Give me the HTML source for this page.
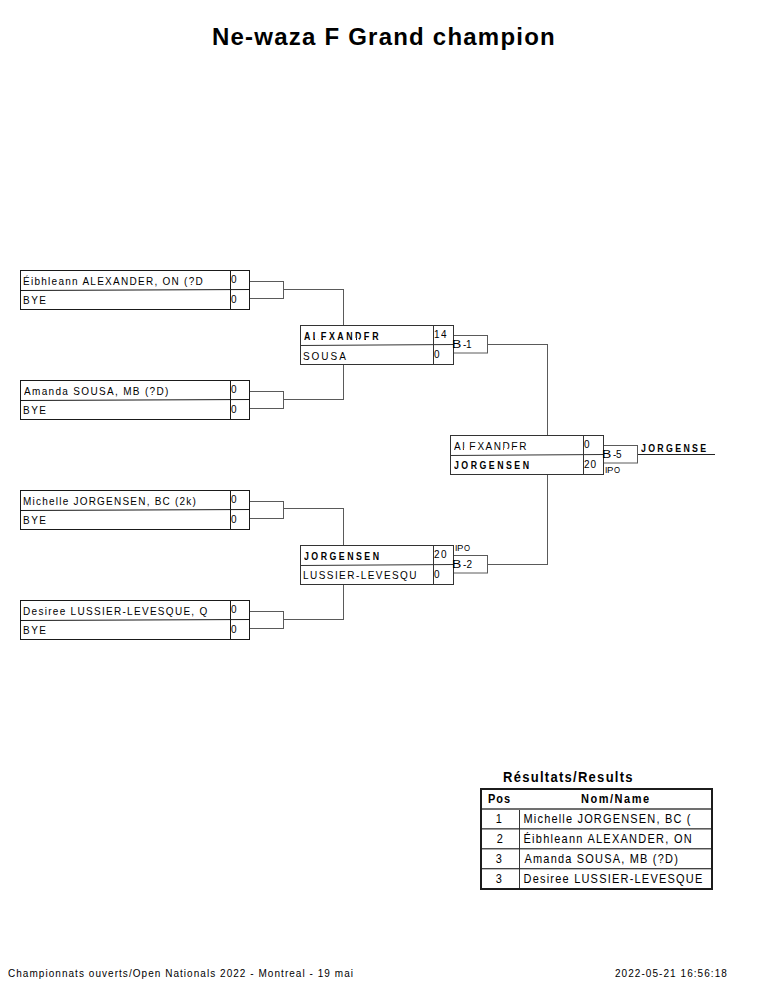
<!DOCTYPE html>
<html><head><meta charset="utf-8"><style>
html,body{margin:0;padding:0;background:#fff;}
#pg{position:relative;width:765px;height:990px;overflow:hidden;background:#fff;}
.t{position:absolute;white-space:pre;line-height:0;font-family:"Liberation Sans", sans-serif;color:#000;}
svg{position:absolute;left:0;top:0;}
</style></head><body><div id="pg">
<svg width="765" height="990" shape-rendering="crispEdges"><rect x="20" y="270" width="230" height="1" fill="#1a1a1a"/><rect x="20" y="309" width="230" height="1" fill="#1a1a1a"/><rect x="20" y="270" width="1" height="40" fill="#1a1a1a"/><rect x="249" y="270" width="1" height="40" fill="#1a1a1a"/><rect x="230" y="270" width="1" height="40" fill="#1a1a1a"/><line x1="20" y1="290.5" x2="250" y2="289.5" stroke="#1a1a1a" stroke-width="1" shape-rendering="auto"/><rect x="250" y="281" width="34" height="1" fill="#5a5a5a"/><rect x="250" y="298" width="34" height="1" fill="#5a5a5a"/><rect x="283" y="281" width="1" height="18" fill="#5a5a5a"/><rect x="284" y="289" width="60" height="1" fill="#5a5a5a"/><rect x="343" y="289" width="1" height="36" fill="#5a5a5a"/><rect x="20" y="380" width="230" height="1" fill="#1a1a1a"/><rect x="20" y="419" width="230" height="1" fill="#1a1a1a"/><rect x="20" y="380" width="1" height="40" fill="#1a1a1a"/><rect x="249" y="380" width="1" height="40" fill="#1a1a1a"/><rect x="230" y="380" width="1" height="40" fill="#1a1a1a"/><line x1="20" y1="400.5" x2="250" y2="399.5" stroke="#1a1a1a" stroke-width="1" shape-rendering="auto"/><rect x="250" y="391" width="34" height="1" fill="#5a5a5a"/><rect x="250" y="408" width="34" height="1" fill="#5a5a5a"/><rect x="283" y="391" width="1" height="18" fill="#5a5a5a"/><rect x="284" y="399" width="60" height="1" fill="#5a5a5a"/><rect x="343" y="364" width="1" height="36" fill="#5a5a5a"/><rect x="20" y="490" width="230" height="1" fill="#1a1a1a"/><rect x="20" y="529" width="230" height="1" fill="#1a1a1a"/><rect x="20" y="490" width="1" height="40" fill="#1a1a1a"/><rect x="249" y="490" width="1" height="40" fill="#1a1a1a"/><rect x="230" y="490" width="1" height="40" fill="#1a1a1a"/><line x1="20" y1="510.5" x2="250" y2="509.5" stroke="#1a1a1a" stroke-width="1" shape-rendering="auto"/><rect x="250" y="501" width="34" height="1" fill="#5a5a5a"/><rect x="250" y="518" width="34" height="1" fill="#5a5a5a"/><rect x="283" y="501" width="1" height="18" fill="#5a5a5a"/><rect x="284" y="508" width="60" height="1" fill="#5a5a5a"/><rect x="343" y="508" width="1" height="37" fill="#5a5a5a"/><rect x="20" y="600" width="230" height="1" fill="#1a1a1a"/><rect x="20" y="639" width="230" height="1" fill="#1a1a1a"/><rect x="20" y="600" width="1" height="40" fill="#1a1a1a"/><rect x="249" y="600" width="1" height="40" fill="#1a1a1a"/><rect x="230" y="600" width="1" height="40" fill="#1a1a1a"/><line x1="20" y1="620.5" x2="250" y2="619.5" stroke="#1a1a1a" stroke-width="1" shape-rendering="auto"/><rect x="250" y="611" width="34" height="1" fill="#5a5a5a"/><rect x="250" y="628" width="34" height="1" fill="#5a5a5a"/><rect x="283" y="611" width="1" height="18" fill="#5a5a5a"/><rect x="284" y="619" width="60" height="1" fill="#5a5a5a"/><rect x="343" y="584" width="1" height="36" fill="#5a5a5a"/><rect x="300" y="325" width="154" height="1" fill="#333"/><rect x="300" y="364" width="154" height="1" fill="#333"/><rect x="300" y="325" width="1" height="40" fill="#333"/><rect x="453" y="325" width="1" height="40" fill="#333"/><rect x="433" y="325" width="1" height="40" fill="#333"/><line x1="300" y1="345.5" x2="454" y2="344.5" stroke="#333" stroke-width="1" shape-rendering="auto"/><rect x="454" y="335" width="33" height="1" fill="#5a5a5a"/><rect x="487" y="335" width="1" height="18" fill="#5a5a5a"/><line x1="454" y1="353" x2="488" y2="353" stroke="#5a5a5a" stroke-width="1" shape-rendering="auto"/><rect x="488" y="344" width="59" height="1" fill="#5a5a5a"/><rect x="300" y="545" width="154" height="1" fill="#333"/><rect x="300" y="584" width="154" height="1" fill="#333"/><rect x="300" y="545" width="1" height="40" fill="#333"/><rect x="453" y="545" width="1" height="40" fill="#333"/><rect x="433" y="545" width="1" height="40" fill="#333"/><line x1="300" y1="565.5" x2="454" y2="564.5" stroke="#333" stroke-width="1" shape-rendering="auto"/><rect x="454" y="555" width="33" height="1" fill="#5a5a5a"/><rect x="487" y="555" width="1" height="18" fill="#5a5a5a"/><line x1="454" y1="573" x2="488" y2="573" stroke="#5a5a5a" stroke-width="1" shape-rendering="auto"/><rect x="488" y="564" width="59" height="1" fill="#5a5a5a"/><rect x="547" y="344" width="1" height="91" fill="#5a5a5a"/><rect x="547" y="474" width="1" height="91" fill="#5a5a5a"/><rect x="450" y="435" width="154" height="1" fill="#333"/><rect x="450" y="474" width="154" height="1" fill="#333"/><rect x="450" y="435" width="1" height="40" fill="#333"/><rect x="603" y="435" width="1" height="40" fill="#333"/><rect x="583" y="435" width="1" height="40" fill="#333"/><line x1="450" y1="455.5" x2="604" y2="454.5" stroke="#333" stroke-width="1" shape-rendering="auto"/><rect x="604" y="445" width="33" height="1" fill="#5a5a5a"/><rect x="637" y="445" width="1" height="18" fill="#5a5a5a"/><line x1="604" y1="463" x2="638" y2="463" stroke="#5a5a5a" stroke-width="1" shape-rendering="auto"/><rect x="638" y="454" width="77" height="1" fill="#222"/><rect x="480" y="788" width="233" height="2" fill="#1c1c1c"/><rect x="480" y="888" width="233" height="2" fill="#1c1c1c"/><rect x="480" y="788" width="2" height="102" fill="#1c1c1c"/><rect x="711" y="788" width="2" height="102" fill="#1c1c1c"/><rect x="482" y="808" width="229" height="1" fill="#707070"/><rect x="482" y="809" width="229" height="1" fill="#707070"/><rect x="482" y="828" width="229" height="1" fill="#5c5c5c"/><rect x="482" y="829" width="229" height="1" fill="#999"/><rect x="482" y="848" width="229" height="1" fill="#505050"/><rect x="482" y="849" width="229" height="1" fill="#aaa"/><rect x="482" y="868" width="229" height="1" fill="#444"/><rect x="482" y="869" width="229" height="1" fill="#bbb"/><rect x="519" y="810" width="1" height="78" fill="#333"/></svg>
<div class="t" style="left:212.00px;top:37.00px;font-size:24px;letter-spacing:1.217px;font-weight:bold">Ne-waza F Grand champion</div>
<div class="t" style="left:23.00px;top:282.00px;font-size:10px;letter-spacing:1.269px;transform:scale(1.0000,1.1000);transform-origin:0 3.00px">Éibhleann ALEXANDER, ON (?D</div>
<div class="t" style="left:23.00px;top:301.00px;font-size:10px;letter-spacing:1.500px;transform:scale(1.0000,1.1000);transform-origin:0 3.00px">BYE</div>
<div class="t" style="left:231.00px;top:280.00px;font-size:10px;transform:scale(1.0000,1.1000);transform-origin:0 3.00px">0</div>
<div class="t" style="left:231.00px;top:300.00px;font-size:10px;transform:scale(1.0000,1.1000);transform-origin:0 3.00px">0</div>
<div class="t" style="left:24.00px;top:392.00px;font-size:10px;letter-spacing:1.325px;transform:scale(1.0000,1.1000);transform-origin:0 3.00px">Amanda SOUSA, MB (?D)</div>
<div class="t" style="left:23.00px;top:411.00px;font-size:10px;letter-spacing:1.500px;transform:scale(1.0000,1.1000);transform-origin:0 3.00px">BYE</div>
<div class="t" style="left:231.00px;top:390.00px;font-size:10px;transform:scale(1.0000,1.1000);transform-origin:0 3.00px">0</div>
<div class="t" style="left:231.00px;top:410.00px;font-size:10px;transform:scale(1.0000,1.1000);transform-origin:0 3.00px">0</div>
<div class="t" style="left:23.00px;top:502.00px;font-size:10px;letter-spacing:1.219px;transform:scale(1.0000,1.1000);transform-origin:0 3.00px">Michelle JORGENSEN, BC (2k)</div>
<div class="t" style="left:23.00px;top:521.00px;font-size:10px;letter-spacing:1.500px;transform:scale(1.0000,1.1000);transform-origin:0 3.00px">BYE</div>
<div class="t" style="left:231.00px;top:500.00px;font-size:10px;transform:scale(1.0000,1.1000);transform-origin:0 3.00px">0</div>
<div class="t" style="left:231.00px;top:520.00px;font-size:10px;transform:scale(1.0000,1.1000);transform-origin:0 3.00px">0</div>
<div class="t" style="left:23.00px;top:612.00px;font-size:10px;letter-spacing:1.296px;transform:scale(1.0000,1.1000);transform-origin:0 3.00px">Desiree LUSSIER-LEVESQUE, Q</div>
<div class="t" style="left:23.00px;top:631.00px;font-size:10px;letter-spacing:1.500px;transform:scale(1.0000,1.1000);transform-origin:0 3.00px">BYE</div>
<div class="t" style="left:231.00px;top:610.00px;font-size:10px;transform:scale(1.0000,1.1000);transform-origin:0 3.00px">0</div>
<div class="t" style="left:231.00px;top:630.00px;font-size:10px;transform:scale(1.0000,1.1000);transform-origin:0 3.00px">0</div>
<div class="t" style="left:304.00px;top:337.00px;font-size:10px;letter-spacing:2.804px;font-weight:bold;transform:scale(0.8800,1.1000);transform-origin:0 3.00px">ALEXANDER</div>
<div class="t" style="left:303.00px;top:357.00px;font-size:10px;letter-spacing:1.950px;transform:scale(1.0000,1.1000);transform-origin:0 3.00px">SOUSA</div>
<div class="t" style="left:434.00px;top:335.00px;font-size:10px;transform:scale(1.0000,1.1000);transform-origin:0 3.00px">1</div>
<div class="t" style="left:441.00px;top:335.00px;font-size:10px;transform:scale(1.0000,1.1000);transform-origin:0 3.00px">4</div>
<div class="t" style="left:434.00px;top:355.00px;font-size:10px;transform:scale(1.0000,1.1000);transform-origin:0 3.00px">0</div>
<div class="t" style="left:451.60px;top:345.00px;font-size:10px;transform:scale(1.4000,1.1000);transform-origin:0 3.00px">B</div>
<div class="t" style="left:463.00px;top:345.00px;font-size:10px;transform:scale(1.0000,1.1000);transform-origin:0 3.00px">-</div>
<div class="t" style="left:466.00px;top:345.00px;font-size:10px;transform:scale(1.0000,1.1000);transform-origin:0 3.00px">1</div>
<div class="t" style="left:304.00px;top:557.00px;font-size:10px;letter-spacing:2.804px;font-weight:bold;transform:scale(0.8800,1.1000);transform-origin:0 3.00px">JORGENSEN</div>
<div class="t" style="left:303.00px;top:576.00px;font-size:10px;letter-spacing:1.443px;transform:scale(1.0000,1.1000);transform-origin:0 3.00px">LUSSIER-LEVESQU</div>
<div class="t" style="left:434.00px;top:555.00px;font-size:10px;transform:scale(1.0000,1.1000);transform-origin:0 3.00px">2</div>
<div class="t" style="left:441.00px;top:555.00px;font-size:10px;transform:scale(1.0000,1.1000);transform-origin:0 3.00px">0</div>
<div class="t" style="left:434.00px;top:575.00px;font-size:10px;transform:scale(1.0000,1.1000);transform-origin:0 3.00px">0</div>
<div class="t" style="left:451.60px;top:565.00px;font-size:10px;transform:scale(1.4000,1.1000);transform-origin:0 3.00px">B</div>
<div class="t" style="left:463.00px;top:565.00px;font-size:10px;transform:scale(1.0000,1.1000);transform-origin:0 3.00px">-</div>
<div class="t" style="left:466.50px;top:565.00px;font-size:10px;transform:scale(1.0000,1.1000);transform-origin:0 3.00px">2</div>
<div class="t" style="left:455.00px;top:548.00px;font-size:8.5px;transform:scale(1.0000,1.1176);transform-origin:0 3.00px">I</div>
<div class="t" style="left:456.88px;top:548.00px;font-size:8.5px;transform:scale(1.1250,1.1176);transform-origin:0 3.00px">P</div>
<div class="t" style="left:464.00px;top:548.00px;font-size:8.5px;transform:scale(0.9167,1.1176);transform-origin:0 3.00px">O</div>
<div class="t" style="left:454.00px;top:447.00px;font-size:10px;letter-spacing:1.500px;transform:scale(1.0000,1.1000);transform-origin:0 3.00px">ALEXANDER</div>
<div class="t" style="left:454.00px;top:466.00px;font-size:10px;letter-spacing:2.804px;font-weight:bold;transform:scale(0.8800,1.1000);transform-origin:0 3.00px">JORGENSEN</div>
<div class="t" style="left:584.00px;top:445.00px;font-size:10px;transform:scale(1.0000,1.1000);transform-origin:0 3.00px">0</div>
<div class="t" style="left:584.00px;top:465.00px;font-size:10px;transform:scale(1.0000,1.1000);transform-origin:0 3.00px">2</div>
<div class="t" style="left:590.50px;top:465.00px;font-size:10px;transform:scale(1.0000,1.1000);transform-origin:0 3.00px">0</div>
<div class="t" style="left:601.60px;top:455.00px;font-size:10px;transform:scale(1.4000,1.1000);transform-origin:0 3.00px">B</div>
<div class="t" style="left:613.00px;top:455.00px;font-size:10px;transform:scale(1.0000,1.1000);transform-origin:0 3.00px">-</div>
<div class="t" style="left:616.00px;top:455.00px;font-size:10px;transform:scale(1.0000,1.1000);transform-origin:0 3.00px">5</div>
<div class="t" style="left:605.00px;top:470.00px;font-size:8.5px;transform:scale(1.0000,1.1176);transform-origin:0 3.00px">I</div>
<div class="t" style="left:606.88px;top:470.00px;font-size:8.5px;transform:scale(1.1250,1.1176);transform-origin:0 3.00px">P</div>
<div class="t" style="left:614.00px;top:470.00px;font-size:8.5px;transform:scale(0.9167,1.1176);transform-origin:0 3.00px">O</div>
<div class="t" style="left:641.00px;top:449.00px;font-size:10px;letter-spacing:2.633px;font-weight:bold;transform:scale(0.8800,1.1000);transform-origin:0 3.00px">JORGENSE</div>
<div class="t" style="left:503.00px;top:778.00px;font-size:13px;letter-spacing:1.281px;font-weight:bold;transform:scale(1.0000,1.0769);transform-origin:0 4.00px">Résultats/Results</div>
<div class="t" style="left:488.00px;top:799.00px;font-size:11px;letter-spacing:1.000px;font-weight:bold;transform:scale(1.0000,1.0909);transform-origin:0 4.00px">Pos</div>
<div class="t" style="left:581.00px;top:799.00px;font-size:11px;letter-spacing:1.529px;font-weight:bold;transform:scale(1.0000,1.0909);transform-origin:0 4.00px">Nom/Name</div>
<div class="t" style="left:495.80px;top:819.00px;font-size:11px;transform:scale(1.0000,1.0909);transform-origin:0 4.00px">1</div>
<div class="t" style="left:523.50px;top:819.00px;font-size:11px;letter-spacing:1.174px;transform:scale(1.0000,1.0909);transform-origin:0 4.00px">Michelle JORGENSEN, BC (</div>
<div class="t" style="left:496.80px;top:839.00px;font-size:11px;transform:scale(1.0000,1.0909);transform-origin:0 4.00px">2</div>
<div class="t" style="left:523.50px;top:839.00px;font-size:11px;letter-spacing:1.250px;transform:scale(1.0000,1.0909);transform-origin:0 4.00px">Éibhleann ALEXANDER, ON</div>
<div class="t" style="left:495.80px;top:859.00px;font-size:11px;transform:scale(1.0000,1.0909);transform-origin:0 4.00px">3</div>
<div class="t" style="left:524.50px;top:859.00px;font-size:11px;letter-spacing:1.185px;transform:scale(1.0000,1.0909);transform-origin:0 4.00px">Amanda SOUSA, MB (?D)</div>
<div class="t" style="left:495.80px;top:879.00px;font-size:11px;transform:scale(1.0000,1.0909);transform-origin:0 4.00px">3</div>
<div class="t" style="left:523.50px;top:879.00px;font-size:11px;letter-spacing:1.209px;transform:scale(1.0000,1.0909);transform-origin:0 4.00px">Desiree LUSSIER-LEVESQUE</div>
<div class="t" style="left:8.00px;top:974.00px;font-size:10px;letter-spacing:1.042px;transform:scale(1.0000,1.1000);transform-origin:0 3.00px">Championnats ouverts/Open Nationals 2022 - Montreal - 19 mai</div>
<div class="t" style="left:615.00px;top:974.00px;font-size:10px;letter-spacing:1.056px;transform:scale(1.0000,1.1000);transform-origin:0 3.00px">2022-05-21 16:56:18</div>
<svg id="ov" width="765" height="990" style="position:absolute;left:0;top:0" shape-rendering="crispEdges"><rect x="315" y="339" width="1" height="1" fill="#fff"/><rect x="315" y="338" width="1" height="1" fill="#fff"/><rect x="316" y="339" width="1" height="1" fill="#fff"/><rect x="316" y="338" width="1" height="1" fill="#fff"/><rect x="317" y="339" width="1" height="1" fill="#fff"/><rect x="317" y="338" width="1" height="1" fill="#fff"/><rect x="323" y="339" width="1" height="1" fill="#fff"/><rect x="323" y="338" width="1" height="1" fill="#fff"/><rect x="324" y="339" width="1" height="1" fill="#fff"/><rect x="324" y="338" width="1" height="1" fill="#fff"/><rect x="325" y="339" width="1" height="1" fill="#fff"/><rect x="325" y="338" width="1" height="1" fill="#fff"/><rect x="326" y="339" width="1" height="1" fill="#fff"/><rect x="326" y="338" width="1" height="1" fill="#fff"/><rect x="355" y="339" width="1" height="1" fill="#fff"/><rect x="355" y="338" width="1" height="1" fill="#fff"/><rect x="357" y="339" width="1" height="1" fill="#fff"/><rect x="357" y="338" width="1" height="1" fill="#fff"/><rect x="358" y="339" width="1" height="1" fill="#fff"/><rect x="366" y="339" width="1" height="1" fill="#fff"/><rect x="366" y="338" width="1" height="1" fill="#fff"/><rect x="367" y="339" width="1" height="1" fill="#fff"/><rect x="367" y="338" width="1" height="1" fill="#fff"/><rect x="368" y="339" width="1" height="1" fill="#fff"/><rect x="368" y="338" width="1" height="1" fill="#fff"/><rect x="369" y="339" width="1" height="1" fill="#fff"/><rect x="369" y="338" width="1" height="1" fill="#fff"/><rect x="464" y="449" width="1" height="1" fill="#fff"/><rect x="464" y="448" width="1" height="1" fill="#fff"/><rect x="465" y="449" width="1" height="1" fill="#fff"/><rect x="466" y="449" width="1" height="1" fill="#fff"/><rect x="467" y="449" width="1" height="1" fill="#fff"/><rect x="471" y="449" width="1" height="1" fill="#fff"/><rect x="471" y="448" width="1" height="1" fill="#fff"/><rect x="472" y="449" width="1" height="1" fill="#fff"/><rect x="473" y="449" width="1" height="1" fill="#fff"/><rect x="474" y="449" width="1" height="1" fill="#fff"/><rect x="475" y="449" width="1" height="1" fill="#fff"/><rect x="504" y="449" width="1" height="1" fill="#fff"/><rect x="504" y="448" width="1" height="1" fill="#fff"/><rect x="505" y="449" width="1" height="1" fill="#fff"/><rect x="506" y="449" width="1" height="1" fill="#fff"/><rect x="506" y="448" width="1" height="1" fill="#fff"/><rect x="507" y="449" width="1" height="1" fill="#fff"/><rect x="513" y="449" width="1" height="1" fill="#fff"/><rect x="513" y="448" width="1" height="1" fill="#fff"/><rect x="514" y="449" width="1" height="1" fill="#fff"/><rect x="515" y="449" width="1" height="1" fill="#fff"/><rect x="516" y="449" width="1" height="1" fill="#fff"/><rect x="517" y="449" width="1" height="1" fill="#fff"/></svg>
</div></body></html>
